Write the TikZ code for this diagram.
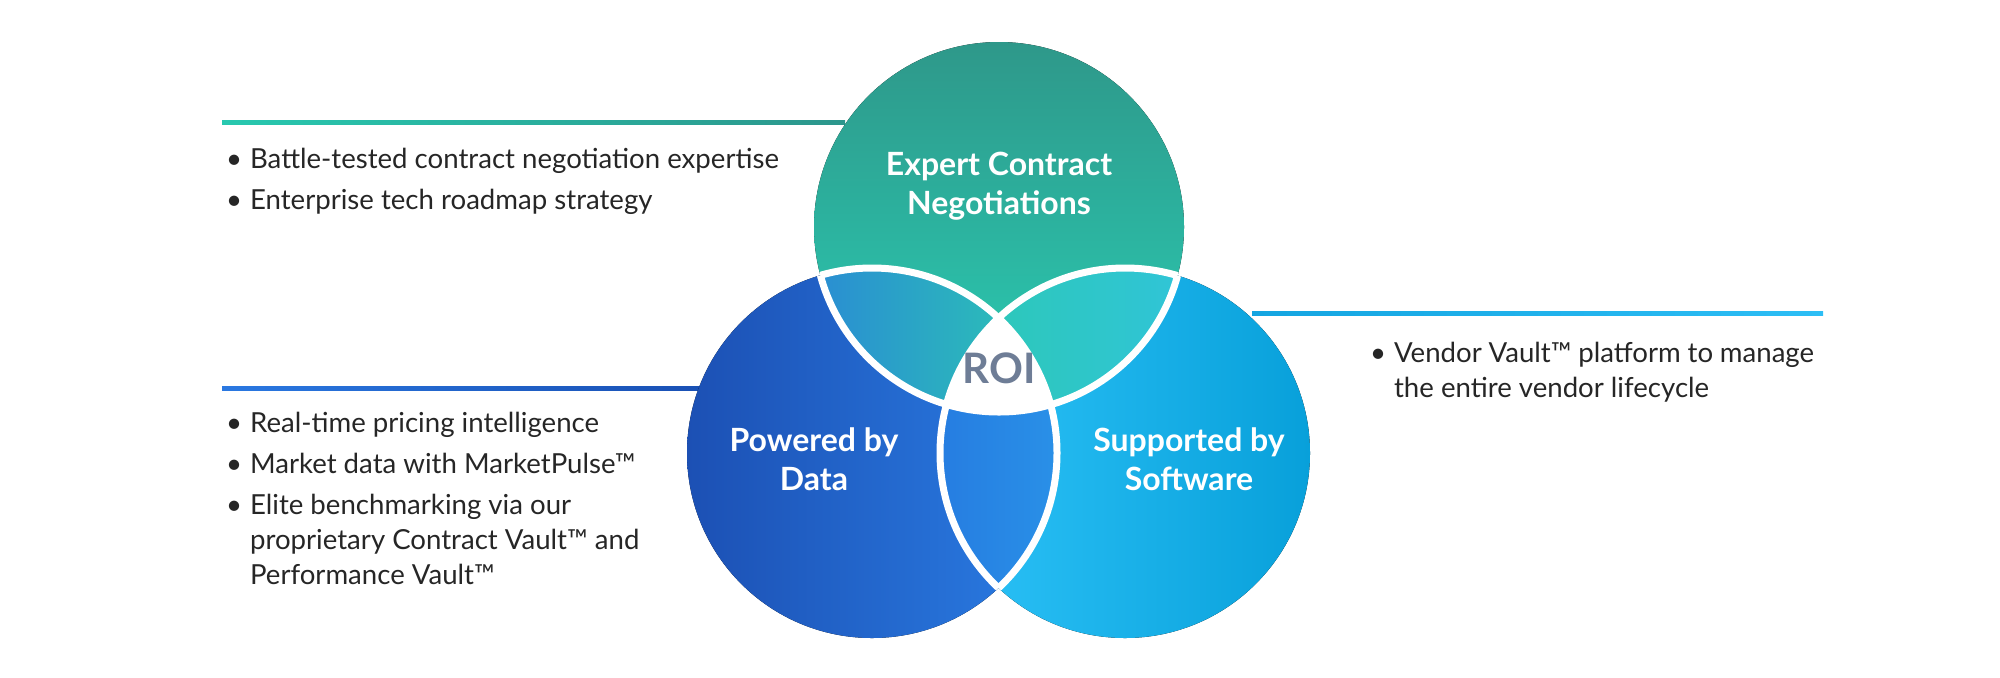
\documentclass[tikz,border=0pt]{standalone}
\usepackage{fontspec}
\setmainfont{Lato}
\newcommand{\bitem}[2][210pt]{\makebox[12pt][l]{\textbullet}\parbox[t]{#1}{\raggedright #2}}
\begin{document}
\begin{tikzpicture}[x=0.5pt,y=-0.5pt,
  bl/.style={font=\fontsize{13.8}{17.5}\selectfont,text=black!85,anchor=north west,align=left},
  ct/.style={font=\bfseries\fontsize{16}{19.5}\selectfont,text=white,align=center},
  wl/.style={draw=white,line width=3.5pt}]
\useasboundingbox (0,0) rectangle (2000,677);
\def\R{92.5pt}
\coordinate (T) at (999,227);
\coordinate (L) at (872,453);
\coordinate (Rr) at (1125,453);
% rules
\shade[left color={rgb,255:red,40;green,200;blue,175}, right color={rgb,255:red,44;green,150;blue,140}] (222,120) rectangle (845,124);
\shade[left color={rgb,255:red,42;green,120;blue,225}, right color={rgb,255:red,25;green,80;blue,180}] (222,386) rectangle (704,390);
\shade[left color={rgb,255:red,20;green,165;blue,225}, right color={rgb,255:red,45;green,190;blue,245}] (1252,311) rectangle (1823,315);
% base circles
\fill[shading angle=-45,left color={rgb,255:red,28;green,80;blue,180}, right color={rgb,255:red,42;green,125;blue,228}] (L) circle (\R);
\fill[shading angle=45,left color={rgb,255:red,45;green,195;blue,248}, right color={rgb,255:red,8;green,160;blue,218}] (Rr) circle (\R);
\fill[top color={rgb,255:red,46;green,152;blue,138}, bottom color={rgb,255:red,42;green,205;blue,180}] (T) circle (\R);
% pair intersections
\begin{scope}\clip (T) circle (\R);
  \fill[shading angle=45,left color={rgb,255:red,40;green,110;blue,228}, right color={rgb,255:red,44;green,200;blue,178}] (L) circle (\R);
  \fill[left color={rgb,255:red,44;green,200;blue,178}, right color={rgb,255:red,50;green,195;blue,235}] (Rr) circle (\R);
\end{scope}
\begin{scope}\clip (L) circle (\R);
  \fill[left color={rgb,255:red,38;green,125;blue,225}, right color={rgb,255:red,48;green,185;blue,245}] (Rr) circle (\R);
  \clip (Rr) circle (\R); \fill[white] (T) circle (\R);
\end{scope}
% white outlines
\begin{scope}\clip (L) circle (\R) (Rr) circle (\R);
  \draw[wl] (T) circle (\R);\end{scope}
\begin{scope}\clip (T) circle (\R) (Rr) circle (\R);
  \draw[wl] (L) circle (\R);\end{scope}
\begin{scope}\clip (T) circle (\R) (L) circle (\R);
  \draw[wl] (Rr) circle (\R);\end{scope}
% labels
\node[ct] (nt) at (999,186) {Expert Contract\\Negotiations};
\node[ct] (nl) at (814,459) {Powered by\\Data};
\node[ct] (nr) at (1189,459) {Supported by\\Software};
\node[font=\bfseries\fontsize{21}{24}\selectfont,text={rgb,255:red,110;green,125;blue,150}] (roi) at (999,368) {ROI};
% bullets
\node[bl] (b1) at (219,141) {\bitem[300pt]{Battle-tested contract negotiation expertise}\\[3pt]\bitem[300pt]{Enterprise tech roadmap strategy}};
\node[bl] (b2) at (219,405) {\bitem{Real-time pricing intelligence}\\[3pt]\bitem{Market data with MarketPulse™}\\[3pt]\bitem{Elite benchmarking via our proprietary Contract Vault™ and Performance Vault™}};
\node[bl] (b3) at (1363,335) {\bitem{Vendor Vault™ platform to manage the entire vendor lifecycle}};
\end{tikzpicture}
\end{document}
